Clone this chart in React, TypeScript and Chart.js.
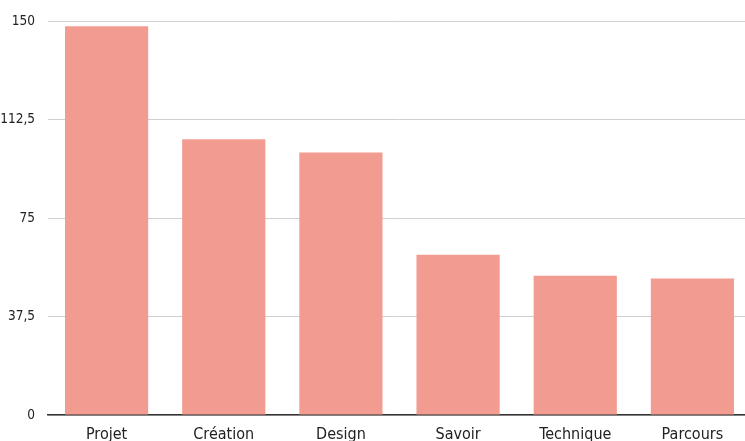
import React, { useEffect, useRef } from "react";
import { Chart, registerables } from "chart.js";

Chart.register(...registerables);

const categories = ["Projet", "Création", "Design", "Savoir", "Technique", "Parcours"];
const values = [148, 105, 100, 61, 53, 52];
const yTicks = [0, 37.5, 75, 112.5, 150];

const FONT = "'Liberation Sans Narrow', 'DejaVu Sans Condensed', 'Roboto', sans-serif";

export default function App() {
  const ref = useRef<HTMLCanvasElement | null>(null);

  useEffect(() => {
    document.body.style.margin = "0";
    const ctx = ref.current;
    if (!ctx) return;
    const chart = new Chart(ctx, {
      type: "bar",
      data: {
        labels: categories,
        datasets: [
          {
            data: values,
            backgroundColor: "#F29B90",
            borderWidth: 0,
            categoryPercentage: 1,
            barPercentage: 0.71,
          },
        ],
      },
      options: {
        responsive: false,
        animation: false,
        layout: { padding: { top: 21, right: 0, left: 0, bottom: 0 } },
        plugins: { legend: { display: false }, tooltip: { enabled: false } },
        scales: {
          x: {
            grid: { display: false, drawTicks: false },
            border: { display: true, color: "#333", width: 1.5 },
            ticks: {
              color: "#222",
              font: { family: FONT, size: 16 },
              padding: 10,
              maxRotation: 0,
            },
            afterFit: (s: any) => {
              s.height = 35;
            },
          },
          y: {
            min: 0,
            max: 150,
            afterBuildTicks: (s: any) => {
              s.ticks = yTicks.map((v) => ({ value: v }));
            },
            grid: { color: "#d0d0d0", lineWidth: 1, drawTicks: false },
            border: { display: false },
            ticks: {
              color: "#222",
              font: { family: FONT, size: 13.5 },
              padding: 13,
              callback: (v: any) => String(v).replace(".", ","),
            },
            afterFit: (s: any) => {
              s.width = 48;
            },
          },
        },
      },
    });
    return () => chart.destroy();
  }, []);

  return (
    <div style={{ width: 745, height: 441, overflow: "hidden", position: "relative", background: "#fff" }}>
      <canvas ref={ref} width={751} height={450} style={{ position: "absolute", left: 0, top: 0 }} />
    </div>
  );
}
